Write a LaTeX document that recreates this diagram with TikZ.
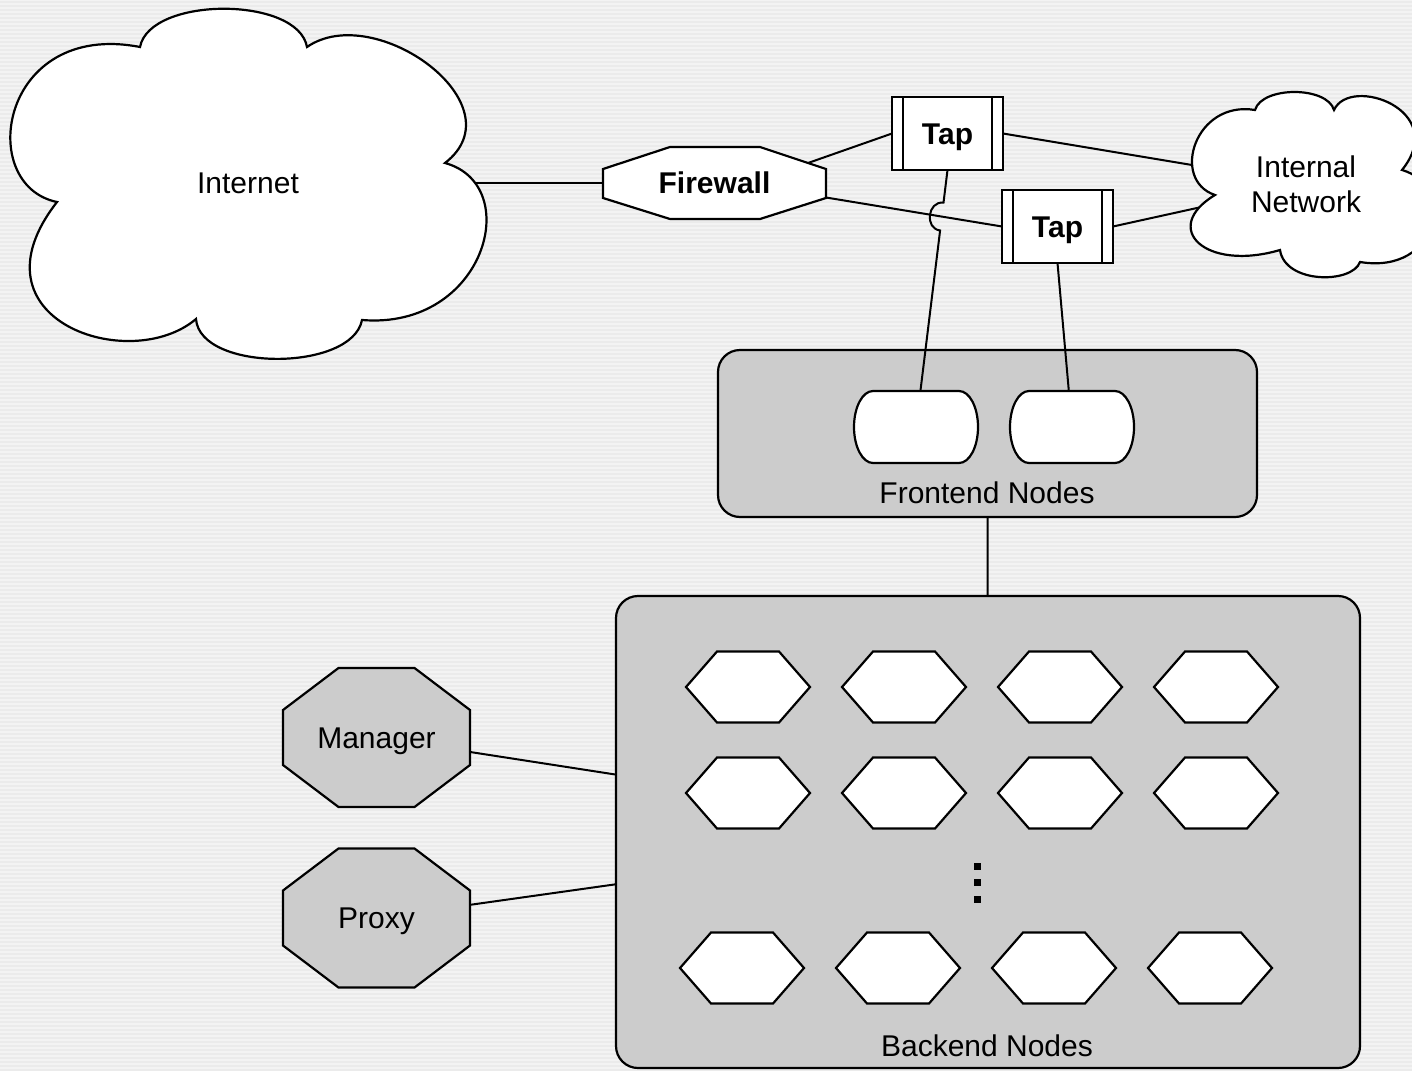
\documentclass[tikz,border=0pt]{standalone}
\usepackage{fontspec}
\setmainfont{Liberation Sans}
\usetikzlibrary{calc}

\pgfdeclarelayer{paper}
\pgfdeclarelayer{boxes}
\pgfdeclarelayer{wires}
\pgfsetlayers{paper,boxes,wires,main}

\definecolor{paperA}{RGB}{243,243,243}
\definecolor{paperB}{RGB}{235,235,235}
\definecolor{panel}{RGB}{204,204,204}

% capsule outline (flat top and bottom, elliptic ends) round an empty node
\newcommand\drawcapsule[1]{%
  \draw[shape line, fill=white]
    ([xshift=19pt]#1.north west) -- ([xshift=-19pt]#1.north east)
    arc[start angle=90, end angle=-90, x radius=19pt, y radius=36pt]
    -- ([xshift=19pt]#1.south west)
    arc[start angle=270, end angle=90, x radius=19pt, y radius=36pt] -- cycle;}

\begin{document}
\begin{tikzpicture}[x=1pt, y=1pt,
  shape line/.style={draw=black, line width=2.2pt},
  wire/.style={draw=black, line width=2pt},
  txt/.style={font=\fontsize{30}{35}\selectfont, inner sep=2pt, align=center, text=black},
  oneline/.style={txt, text height=21.5pt, text depth=0pt},
  boldtxt/.style={oneline, font=\fontsize{30}{35}\selectfont\bfseries},
  cloudfill/.style={shape line, fill=white},
  panelbox/.style={shape line, fill=panel, rounded corners=22pt, inner sep=0pt, outer sep=0pt},
  hexcell/.style={shape line, fill=white},
  roleoct/.style={shape line, fill=panel},
  slot/.style={inner sep=0pt, outer sep=0pt, minimum width=124pt, minimum height=72pt},
  tapbox/.style={shape line, fill=white, boldtxt, inner sep=0pt, outer sep=0pt,
    minimum width=111pt, minimum height=73pt,
    path picture={\draw[line width=2.2pt]
      ([xshift=11pt]path picture bounding box.north west) -- ([xshift=11pt]path picture bounding box.south west)
      ([xshift=-11pt]path picture bounding box.north east) -- ([xshift=-11pt]path picture bounding box.south east);}},
]

\useasboundingbox (0,0) rectangle (1412,-1070);

% striped paper
\begin{pgfonlayer}{paper}
  \fill[paperA] (0,0) rectangle (1412,-1070);
  \foreach \k in {0,...,267}
    \fill[paperB] (0,{-4*\k-1}) rectangle (1412,{-4*\k-3});
\end{pgfonlayer}

% grey group panels
\begin{pgfonlayer}{boxes}
  \node[panelbox, minimum width=539pt, minimum height=167pt] (front) at (987.5,-433.5) {};
  \node[panelbox, minimum width=744pt, minimum height=472pt] (back) at (988,-832) {};
\end{pgfonlayer}
\node[oneline] (frontlbl) at (987,-493) {Frontend Nodes};
\node[oneline] (backlbl) at (987,-1046) {Backend Nodes};

% Internet cloud
\draw[cloudfill] (140,-47) .. controls (150,4) and (298,4) .. (307,-47)
  .. controls (375,0) and (520,-105) .. (445,-163)
  .. controls (525,-185) and (485,-330) .. (362,-320)
  .. controls (352,-372) and (200,-372) .. (196,-319)
  .. controls (130,-375) and (-35,-320) .. (57,-202)
  .. controls (-25,-185) and (0,-20) .. (140,-47) -- cycle;
\node[oneline] (inet) at (248,-183) {Internet};

% internal network cloud
\draw[cloudfill] (1255,-110) .. controls (1262,-86) and (1327,-86) .. (1334,-110)
  .. controls (1350,-75) and (1450,-110) .. (1402,-170)
  .. controls (1455,-185) and (1440,-275) .. (1360,-262)
  .. controls (1352,-284) and (1285,-284) .. (1280,-250)
  .. controls (1205,-272) and (1160,-228) .. (1215,-195)
  .. controls (1170,-180) and (1195,-100) .. (1255,-110) -- cycle;
\node[txt] (innet) at (1306,-184) {Internal\\Network};

% firewall
\draw[shape line, fill=white] (603,-169) -- (670,-147) -- (760,-147) -- (826,-169)
  -- (826,-198) -- (760,-219) -- (670,-219) -- (603,-198) -- cycle;
\node[boldtxt] (fw) at (714.5,-183) {Firewall};
\coordinate (fwA) at (808,-163);
\coordinate (fwB) at (826,-197.5);

% taps
\node[tapbox] (tap1) at (947.5,-133.5) {Tap};
\node[tapbox] (tap2) at (1057.5,-226.5) {Tap};

% frontend nodes
\node[slot] (fe1) at (916,-427) {};
\node[slot] (fe2) at (1072,-427) {};
\drawcapsule{fe1}
\drawcapsule{fe2}

% backend nodes
\foreach \cx/\cy in {748/687, 904/687, 1060/687, 1216/687,
                     748/793, 904/793, 1060/793, 1216/793,
                     742/968, 898/968, 1054/968, 1210/968}
  \draw[hexcell, shift={(\cx,-\cy)}] (-62,0) -- (-31,35.5) -- (31,35.5) -- (62,0)
    -- (31,-35.5) -- (-31,-35.5) -- cycle;
\foreach \dy in {866,882,899}
  \fill[black] (973.5,{-\dy+3.5}) rectangle ++(7,-7);

% manager and proxy
\draw[roleoct, shift={(376.5,-737.5)}] (-38,69.5) -- (38,69.5) -- (93.5,27.5) -- (93.5,-27.5)
  -- (38,-69.5) -- (-38,-69.5) -- (-93.5,-27.5) -- (-93.5,27.5) -- cycle;
\node[oneline] (mgr) at (376.5,-737.5) {Manager};
\draw[roleoct, shift={(376.5,-918)}] (-38,69.5) -- (38,69.5) -- (93.5,27.5) -- (93.5,-27.5)
  -- (38,-69.5) -- (-38,-69.5) -- (-93.5,-27.5) -- (-93.5,27.5) -- cycle;
\node[oneline] (prx) at (376.5,-918) {Proxy};

% connections
\begin{pgfonlayer}{wires}
  \draw[wire] (inet) -- (fw);
  \draw[wire] (fwA) -- (tap1.west);
  \draw[wire] (fwB) -- (tap2.west);
  \draw[wire] (tap1.east) -- (innet);
  \draw[wire] (tap2.east) -- (innet);
  \coordinate (hop) at (intersection of tap1.south--fe1.center and fwB--tap2.west);
  \coordinate (hopA) at ($(hop)!14pt!(tap1.south)$);
  \coordinate (hopB) at ($(hop)!14pt!(fe1.center)$);
  \draw[wire] (tap1.south) -- (hopA)
    .. controls ($(hopA)!16pt!-90:(hop)$) and ($(hopB)!16pt!90:(hop)$) .. (hopB)
    -- (fe1.center);
  \draw[wire] (tap2.south) -- (fe2.center);
  \draw[wire] (front) -- (back);
  \draw[wire] (mgr) -- (back);
  \draw[wire] (prx) -- (back);
\end{pgfonlayer}
\end{tikzpicture}
\end{document}
